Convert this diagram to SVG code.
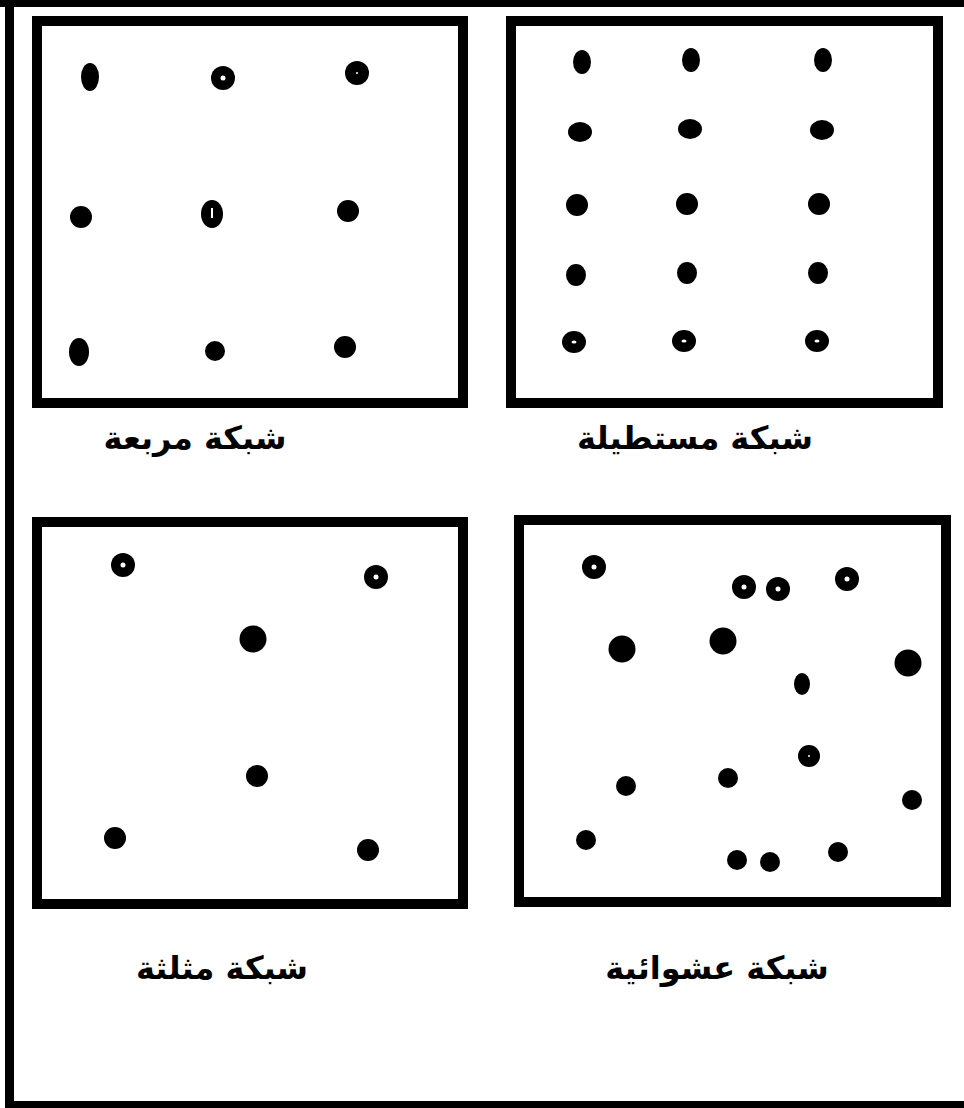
<svg xmlns="http://www.w3.org/2000/svg" width="964" height="1108" viewBox="0 0 964 1108">
<style>
.box{fill:none;stroke:#000;stroke-width:10}
.d{fill:#000}
.h{fill:#fff}
.lbl{font-family:"DejaVu Sans",sans-serif;font-weight:bold;font-size:32px;fill:#000;text-anchor:middle}
</style>
<rect width="964" height="1108" fill="#fff"/>
<g id="frame">
<rect x="0" y="0" width="964" height="7" fill="#000"/>
<rect x="5" y="0" width="9" height="1108" fill="#000"/>
<rect x="5" y="1101" width="959" height="7" fill="#000"/>
</g>
<g id="square-grid">
<rect class="box" x="37" y="21" width="426" height="382"/>
<ellipse class="d" cx="90" cy="77" rx="9" ry="14"/>
<circle class="d" cx="223" cy="78" r="12"/><circle class="h" cx="223" cy="78" r="2.5"/>
<circle class="d" cx="357" cy="73" r="12"/><circle class="h" cx="357" cy="73" r="1"/>
<circle class="d" cx="81" cy="217" r="11"/>
<ellipse class="d" cx="212" cy="214" rx="11" ry="14"/><rect class="h" x="211" y="208" width="2" height="10"/>
<circle class="d" cx="348" cy="211" r="11"/>
<ellipse class="d" cx="79" cy="352" rx="10" ry="14"/>
<circle class="d" cx="215" cy="351" r="10"/>
<circle class="d" cx="345" cy="347" r="11"/>
<text class="lbl" x="195" y="449">شبكة مربعة</text>
</g>
<g id="rectangular-grid">
<rect class="box" x="511" y="21" width="427" height="382"/>
<ellipse class="d" cx="582" cy="62" rx="9" ry="12"/>
<ellipse class="d" cx="691" cy="60" rx="9" ry="12"/>
<ellipse class="d" cx="823" cy="60" rx="9" ry="12"/>
<ellipse class="d" cx="580" cy="132" rx="12" ry="10"/>
<ellipse class="d" cx="690" cy="129" rx="12" ry="10"/>
<ellipse class="d" cx="822" cy="130" rx="12" ry="10"/>
<circle class="d" cx="577" cy="205" r="11"/>
<circle class="d" cx="687" cy="204" r="11"/>
<circle class="d" cx="819" cy="204" r="11"/>
<ellipse class="d" cx="576" cy="275" rx="10" ry="11"/>
<ellipse class="d" cx="687" cy="273" rx="10" ry="11"/>
<ellipse class="d" cx="818" cy="273" rx="10" ry="11"/>
<ellipse class="d" cx="574" cy="342" rx="12" ry="11"/><ellipse class="h" cx="574" cy="342" rx="2.5" ry="1.5"/>
<ellipse class="d" cx="684" cy="341" rx="12" ry="11"/><ellipse class="h" cx="684" cy="341" rx="2.5" ry="1.5"/>
<ellipse class="d" cx="817" cy="341" rx="12" ry="11"/><ellipse class="h" cx="817" cy="341" rx="2.5" ry="1.5"/>
<text class="lbl" x="695" y="449">شبكة مستطيلة</text>
</g>
<g id="triangular-grid">
<rect class="box" x="37" y="522" width="426" height="382"/>
<circle class="d" cx="123" cy="565" r="12"/><circle class="h" cx="123" cy="565" r="2.5"/>
<circle class="d" cx="376" cy="577" r="12"/><circle class="h" cx="376" cy="577" r="2.5"/>
<circle class="d" cx="253" cy="639" r="13.5"/>
<circle class="d" cx="257" cy="776" r="11"/>
<circle class="d" cx="115" cy="838" r="11"/>
<circle class="d" cx="368" cy="850" r="11"/>
<text class="lbl" x="222" y="979">شبكة مثلثة</text>
</g>
<g id="random-grid">
<rect class="box" x="519" y="520" width="427" height="382"/>
<circle class="d" cx="594" cy="567" r="12"/><circle class="h" cx="594" cy="567" r="2.5"/>
<circle class="d" cx="744" cy="587" r="12"/><circle class="h" cx="744" cy="587" r="2.5"/>
<circle class="d" cx="778" cy="589" r="12"/><circle class="h" cx="778" cy="589" r="2.5"/>
<circle class="d" cx="847" cy="579" r="12"/><circle class="h" cx="847" cy="579" r="2.5"/>
<circle class="d" cx="622" cy="649" r="13.5"/>
<circle class="d" cx="723" cy="641" r="13.5"/>
<circle class="d" cx="908" cy="663" r="13.5"/>
<ellipse class="d" cx="802" cy="684" rx="8" ry="11"/>
<circle class="d" cx="809" cy="756" r="11"/><circle class="h" cx="809" cy="756" r="1"/>
<circle class="d" cx="626" cy="786" r="10"/>
<circle class="d" cx="728" cy="778" r="10"/>
<circle class="d" cx="912" cy="800" r="10"/>
<circle class="d" cx="586" cy="840" r="10"/>
<circle class="d" cx="737" cy="860" r="10"/>
<circle class="d" cx="770" cy="862" r="10"/>
<circle class="d" cx="838" cy="852" r="10"/>
<text class="lbl" x="717" y="979">شبكة عشوائية</text>
</g>
</svg>
